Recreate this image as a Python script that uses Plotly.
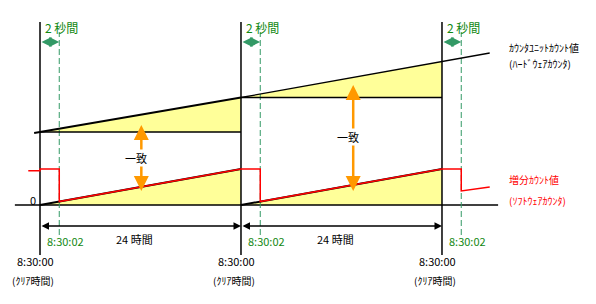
import plotly.graph_objects as go

# ---- data (schematic units: x = hours since first clear, y = count) ----
clear_times = [0, 24, 48]          # 8:30:00 clear moments
gap = 2.3                           # "2 sec" window (exaggerated)
read_times = [t + gap for t in clear_times]

hw_x = [-0.7, 0, 24, 48, 53.7]      # hardware counter (continuous)
hw_y = [72, 73, 107.5, 143.5, 152]
hw_snap = [73, 107.5]               # hardware value at clear times

sw_x = [-1.4, 0, 0, 2.3, 2.3, 24, 26.3, 26.3, 48, 50.3, 50.3, 53.7]
sw_y = [34.3, 34.3, 36, 36, 3.5, 36, 36, 3.5, 36, 36, 14, 18]
sw_top = 36                          # software count reached in 24h

match_x = [12.1, 37.4]
match_top = [80, 120]
match_bot = [14, 14]
match_label_y = [47, 68]

FONT = "Noto Sans CJK JP"
GREEN_T = "#118811"
GREEN_L = "#339966"
YELLOW = "#ffff99"
ORANGE = "#ff9900"

fig = go.Figure()

# yellow areas
for i in range(2):
    t0, t1 = clear_times[i], clear_times[i + 1]
    fig.add_trace(go.Scatter(x=[t0, t1, t1, t0], y=[hw_snap[i], hw_y[2 + i], hw_snap[i], hw_snap[i]],
                             fill="toself", fillcolor=YELLOW, line=dict(width=0), mode="lines",
                             hoverinfo="skip", showlegend=False))
    fig.add_trace(go.Scatter(x=[t0, t1, t1, t0], y=[0, sw_top, 0, 0],
                             fill="toself", fillcolor=YELLOW, line=dict(width=0), mode="lines",
                             hoverinfo="skip", showlegend=False))

# baseline
fig.add_trace(go.Scatter(x=[-3, 54.7], y=[0, 0], mode="lines", line=dict(color="black", width=1.5),
                         showlegend=False, hoverinfo="skip"))
# clear-time verticals
for t in clear_times:
    fig.add_trace(go.Scatter(x=[t, t], y=[-50, 183], mode="lines", line=dict(color="black", width=1.5),
                             showlegend=False, hoverinfo="skip"))
# 2-second dashed verticals
for t in read_times:
    fig.add_trace(go.Scatter(x=[t, t], y=[-30, 173], mode="lines",
                             line=dict(color=GREEN_L, width=1, dash="6px,3px"),
                             showlegend=False, hoverinfo="skip"))
# hardware snapshot horizontals
for i in range(2):
    fig.add_trace(go.Scatter(x=[clear_times[i], clear_times[i + 1]], y=[hw_snap[i], hw_snap[i]],
                             mode="lines", line=dict(color="black", width=1.5),
                             showlegend=False, hoverinfo="skip"))
# hardware counter line
fig.add_trace(go.Scatter(x=hw_x[:3], y=hw_y[:3], mode="lines", line=dict(color="black", width=2),
                         showlegend=False, hoverinfo="skip"))
fig.add_trace(go.Scatter(x=hw_x[2:], y=hw_y[2:], mode="lines", line=dict(color="black", width=1.3),
                         showlegend=False, hoverinfo="skip"))
# black stairs beneath software line
for i in range(2):
    fig.add_trace(go.Scatter(x=[clear_times[i], clear_times[i + 1]], y=[0, sw_top], mode="lines",
                             line=dict(color="black", width=2), showlegend=False, hoverinfo="skip"))
# software (red) line
fig.add_trace(go.Scatter(x=sw_x, y=sw_y, mode="lines", line=dict(color="#ff0000", width=1.5),
                         showlegend=False, hoverinfo="skip"))

ann = []
# orange match arrows
for x, yt, yb, yl in zip(match_x, match_top, match_bot, match_label_y):
    for yh in (yt, yb):
        ann.append(dict(x=x, y=yh, ax=x, ay=yl, axref="x", ayref="y", xref="x", yref="y",
                        text="", showarrow=True, arrowhead=2, arrowsize=1.2, arrowwidth=2.5,
                        arrowcolor=ORANGE))
    ann.append(dict(x=x - 0.6, y=yl, text="一致", showarrow=False, bgcolor="white",
                    font=dict(family=FONT, size=11, color="black"), borderpad=0))

# 2-second arrows & labels
for t, r in zip(clear_times, read_times):
    ann.append(dict(x=r, y=163, ax=t, ay=163, axref="x", ayref="y", text="", showarrow=True,
                    arrowhead=2, arrowside="end+start", arrowsize=1, arrowwidth=2, arrowcolor=GREEN_L))
    ann.append(dict(x=t + 0.3, y=178, text="2 秒間", showarrow=False, xanchor="left",
                    font=dict(family=FONT, size=12, color=GREEN_T)))
    ann.append(dict(x=r + 0.8, y=-36, text="8:30:02", showarrow=False,
                    font=dict(family=FONT, size=11, color=GREEN_T)))

# clear-time labels
for t in clear_times:
    ann.append(dict(x=t - 0.5, y=-56, text="8:30:00", showarrow=False,
                    font=dict(family=FONT, size=11, color="black")))
    ann.append(dict(x=t - 0.8, y=-75, text="(ｸﾘｱ時間)", showarrow=False,
                    font=dict(family=FONT, size=10, color="black")))

# 24-hour arrows
for i in range(2):
    ann.append(dict(x=clear_times[i + 1], y=-21, ax=clear_times[i], ay=-21, axref="x", ayref="y",
                    text="", showarrow=True, arrowhead=2, arrowside="end+start",
                    arrowsize=1, arrowwidth=1.5, arrowcolor="black"))
    ann.append(dict(x=clear_times[i] + 11.3, y=-34, text="24 時間", showarrow=False,
                    font=dict(family=FONT, size=11, color="black")))

ann.append(dict(x=-0.85, y=5, text="0", showarrow=False, font=dict(family=FONT, size=11, color="black")))

# right-side legends
ann.append(dict(x=55.8, y=158, text="ｶｳﾝﾀﾕﾆｯﾄｶｳﾝﾄ値", xanchor="left", showarrow=False,
                font=dict(family=FONT, size=10, color="black")))
ann.append(dict(x=55.8, y=142, text="(ﾊｰﾄﾞｳｪｱｶｳﾝﾀ)", xanchor="left", showarrow=False,
                font=dict(family=FONT, size=10, color="black")))
ann.append(dict(x=55.8, y=26, text="増分ｶｳﾝﾄ値", xanchor="left", showarrow=False,
                font=dict(family=FONT, size=10, color="#ff0000")))
ann.append(dict(x=55.8, y=5, text="(ｿﾌﾄｳｪｱｶｳﾝﾀ)", xanchor="left", showarrow=False,
                font=dict(family=FONT, size=10, color="#ff0000")))

fig.update_layout(
    width=596, height=304, margin=dict(l=0, r=0, t=0, b=0),
    plot_bgcolor="white", paper_bgcolor="white",
    xaxis=dict(range=[-4.776, 66.39], visible=False, fixedrange=True),
    yaxis=dict(range=[-99, 205], visible=False, fixedrange=True),
    annotations=ann, showlegend=False,
)
fig.write_html("out.html")
